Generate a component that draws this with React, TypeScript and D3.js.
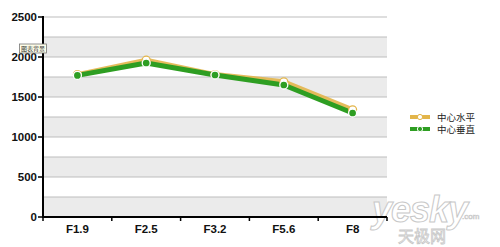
import React from "react";
import * as d3 from "d3";

const categories = ["F1.9", "F2.5", "F3.2", "F5.6", "F8"];
const horizontalValues = [1780, 1960, 1780, 1690, 1340];
const verticalValues = [1770, 1925, 1775, 1650, 1300];
const yTicks = [0, 500, 1000, 1500, 2000, 2500];
const seriesNames = ["中心水平", "中心垂直"];
const seriesColors = ["#e3b54a", "#2e9e22"];

export default function App() {
  const W = 500, H = 247;
  const left = 43, right = 387, top = 17, bottom = 217;
  const x = d3.scaleBand().domain(categories).range([left, right]);
  const y = d3.scaleLinear().domain([0, 2500]).range([bottom, top]);
  const grid = d3.range(0, 2501, 250);
  const bands = d3.range(0, 2500, 250).filter((_, i) => i % 2 === 0);
  const line = d3.line<number>().x((_, i) => x(categories[i])! + x.bandwidth() / 2).y((d) => y(d));
  const font = "Arial, 'Liberation Sans', sans-serif";
  const series = [horizontalValues, verticalValues];

  return (
    <svg width={W} height={H} style={{ position: "absolute", left: 0, top: 0, background: "#fff" }}>
      {bands.map((b) => (
        <rect key={b} x={left} y={y(b + 250)} width={right - left} height={y(b) - y(b + 250)} fill="#ebebeb" />
      ))}
      {grid.map((g) => (
        <line key={g} x1={left} x2={right} y1={y(g)} y2={y(g)} stroke="#bdbdbd" strokeWidth={1} />
      ))}
      {/* watermark */}
      <g fontFamily={font} fill="#fff" stroke="#c8c8c8" strokeWidth={1}>
        <text x={372} y={222} fontSize={36} fontWeight="bold" fontStyle="italic" letterSpacing={-1}>yesky</text>
        <text x={462} y={219} fontSize={8} strokeWidth={0.6}>.com</text>
        <text x={398} y={242} fontSize={16} fontFamily="'Noto Sans CJK SC'" strokeWidth={0.8}>天极网</text>
      </g>
      {/* series */}
      {series.map((vals, si) => (
        <path key={si} d={line(vals)!} fill="none" stroke={seriesColors[si]} strokeWidth={5} strokeLinejoin="round" opacity={si === 0 ? 0.9 : 1} />
      ))}
      {series.map((vals, si) =>
        vals.map((v, i) => (
          <circle key={`${si}-${i}`} cx={x(categories[i])! + x.bandwidth() / 2} cy={y(v)} r={4}
            fill={si === 0 ? "#fff" : seriesColors[1]} stroke={si === 0 ? seriesColors[0] : "#fff"} strokeWidth={si === 0 ? 1.2 : 1.3} />
        ))
      )}
      {/* axes */}
      <line x1={left} x2={left} y1={top - 1} y2={bottom + 1} stroke="#000" strokeWidth={2} />
      <line x1={left - 1} x2={right} y1={bottom} y2={bottom} stroke="#000" strokeWidth={2} />
      {yTicks.map((t) => (
        <g key={t}>
          <line x1={left - 5} x2={left} y1={y(t)} y2={y(t)} stroke="#000" strokeWidth={1.5} />
          <text x={left - 6} y={y(t) + 4} textAnchor="end" fontFamily={font} fontWeight="bold" fontSize={11.5} fill="#111">{t}</text>
        </g>
      ))}
      {categories.concat(["__end"]).map((c, i) => {
        const xx = left + i * x.bandwidth();
        return <line key={c} x1={xx} x2={xx} y1={bottom} y2={bottom + 4} stroke="#000" strokeWidth={1.5} />;
      })}
      {categories.map((c) => (
        <text key={c} x={x(c)! + x.bandwidth() / 2} y={233} textAnchor="middle" fontFamily={font} fontWeight="bold" fontSize={11.5} fill="#111">{c}</text>
      ))}
      {/* tooltip */}
      <rect x={19.5} y={44} width={27} height={9} fill="#fdfde8" stroke="#777" strokeWidth={0.8} />
      <text x={33} y={51} textAnchor="middle" fontSize={6} fontFamily="'Noto Sans CJK SC'" fill="#333">图表背景</text>
      {/* legend */}
      {seriesNames.map((n, i) => (
        <g key={n} transform={`translate(0, ${117 + i * 12})`}>
          <line x1={410} x2={430} y1={0} y2={0} stroke={seriesColors[i]} strokeWidth={4} />
          <circle cx={420} cy={0} r={2.6} fill={i === 0 ? "#fff" : seriesColors[i]} stroke={i === 0 ? seriesColors[0] : "#fff"} strokeWidth={1} />
          <text x={437} y={3.5} fontSize={9.5} fontFamily="'Noto Sans CJK SC'" fill="#222">{n}</text>
        </g>
      ))}
    </svg>
  );
}
